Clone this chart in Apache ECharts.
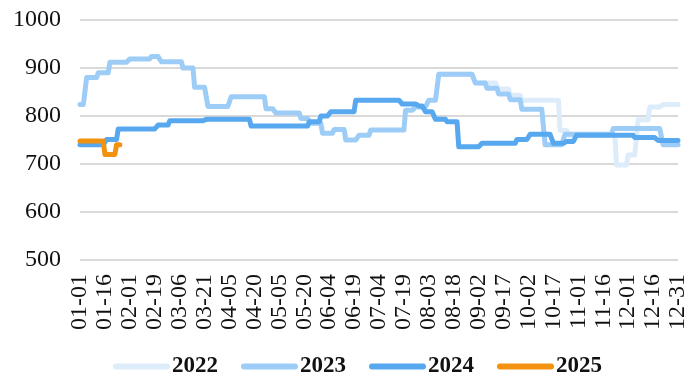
<!DOCTYPE html>
<html>
<head>
<meta charset="utf-8">
<script src="https://cdn.jsdelivr.net/npm/echarts@6/dist/echarts.min.js"></script>
<style>
  html, body { margin: 0; padding: 0; background: #fff; }
  #chart { width: 690px; height: 383px; }
</style>
</head>
<body>
<div id="chart"></div>
<script>
// Seasonal price comparison: one line per year over a Jan–Dec calendar axis.
const years = ['2022', '2023', '2024', '2025'];
const monthLengths = [31, 28, 31, 30, 31, 30, 31, 31, 30, 31, 30, 31];
const skippedDays = ['01-31', '02-10', '02-11', '02-12'];
const yTicks = [500, 600, 700, 800, 900, 1000];

// Prices held as [price, number of consecutive days at that price].
const price2022 = [[null, 216], [887, 22], [869, 14], [856, 7], [843, 7], [833, 23], [770, 5],
  [760, 29], [698, 7], [719, 6], [792, 7], [819, 8], [824, 10]];
const price2023 = [[824, 4], [880, 7], [890, 7], [912, 12], [919, 13], [924, 6], [913, 13],
  [900, 7], [860, 8], [820, 14], [840, 21], [815, 6], [806, 15], [795, 6], [785, 7], [764, 7],
  [772, 7], [750, 8], [760, 7], [771, 21], [812, 6], [819, 8], [833, 6], [887, 22], [869, 7],
  [858, 7], [846, 7], [834, 7], [814, 14], [740, 12], [762, 29], [774, 30], [740, 10]];
const price2024 = [[740, 16], [751, 7], [773, 24], [781, 7], [790, 21], [793, 28], [779, 35],
  [788, 7], [800, 6], [809, 15], [833, 28], [825, 9], [821, 5], [809, 6], [793, 7], [788, 7],
  [736, 14], [743, 21], [751, 8], [762, 14], [743, 7], [747, 7], [760, 35], [755, 14], [749, 13]];
const price2025 = [[748, 15], [720, 7], [740, 3]];

const colors = ['#ddecfb', '#9dcdf7', '#58a8ef', '#f39110'];

// Calendar labels MM-DD, leaving out the days with no quotes.
const categories = [];
monthLengths.forEach((len, m) => {
  for (let d = 1; d <= len; d++) {
    const label = String(m + 1).padStart(2, '0') + '-' + String(d).padStart(2, '0');
    if (!skippedDays.includes(label)) categories.push(label);
  }
});

function expandRuns(runs) {
  const out = [];
  runs.forEach(([v, n]) => { for (let k = 0; k < n; k++) out.push(v); });
  return out;
}

const seriesData = [price2022, price2023, price2024, price2025].map(expandRuns);
const fontFamily = '"Liberation Serif", "Times New Roman", serif';

const chart = echarts.init(document.getElementById('chart'), null, { renderer: 'canvas' });
chart.setOption({
  animation: false,
  backgroundColor: '#ffffff',
  grid: { left: 80, right: 7, top: 20, bottom: 123, containLabel: false },
  legend: {
    data: years,
    left: 108,
    bottom: 0,
    itemWidth: 57,
    itemHeight: 6,
    itemGap: 23,
    icon: 'path://M3,0 H54 A3,3 0 0 1 54,6 H3 A3,3 0 0 1 3,0 Z',
    textStyle: { fontFamily, fontSize: 23, fontWeight: 'bold', color: '#111', padding: [0, 0, 0, -3] }
  },
  xAxis: {
    type: 'category',
    boundaryGap: false,
    data: categories,
    axisLine: { show: false },
    axisTick: { show: false },
    axisLabel: {
      interval: 14,
      rotate: 90,
      margin: 14,
      fontFamily,
      fontSize: 24,
      color: '#111'
    }
  },
  yAxis: {
    type: 'value',
    min: yTicks[0],
    max: yTicks[yTicks.length - 1],
    interval: 100,
    axisLine: { show: false },
    axisTick: { show: false },
    splitLine: { lineStyle: { color: '#d9d9d9', width: 2 } },
    axisLabel: {
      margin: 19,
      fontFamily,
      fontSize: 24,
      color: '#111',
      formatter: (v) => String(v)
    }
  },
  series: years.map((name, idx) => ({
    name,
    type: 'line',
    data: seriesData[idx],
    showSymbol: false,
    symbol: 'none',
    connectNulls: false,
    color: colors[idx],
    lineStyle: { width: 5, color: colors[idx], cap: 'round', join: 'round' },
    itemStyle: { color: colors[idx] }
  }))
});
</script>
</body>
</html>
